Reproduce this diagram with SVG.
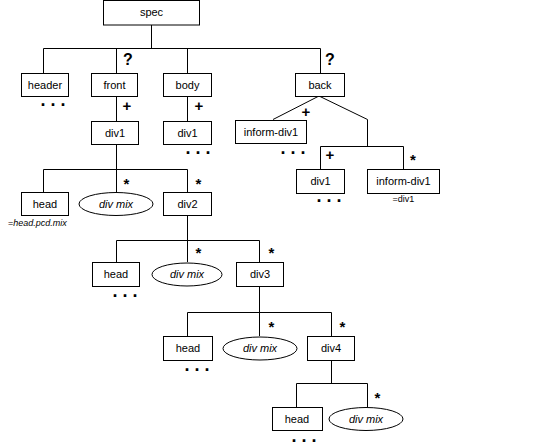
<svg xmlns="http://www.w3.org/2000/svg" width="544" height="446" viewBox="0 0 544 446">
<style>
.b{fill:#fff;stroke:#000;stroke-width:1}
.t{font-family:"Liberation Sans",Arial,sans-serif;font-size:11px;text-anchor:middle;fill:#000}
.i{font-style:italic}
.s{font-family:"Liberation Sans",Arial,sans-serif;font-size:15px;font-weight:bold;text-anchor:middle;fill:#000}
.q{font-family:"Liberation Sans",Arial,sans-serif;font-size:16px;font-weight:bold;text-anchor:middle;fill:#000}
.d{font-family:"Liberation Sans",Arial,sans-serif;font-size:18px;font-weight:bold;fill:#000}
.n{font-family:"Liberation Sans",Arial,sans-serif;font-size:9px;fill:#000}
#connectors line{stroke:#000;stroke-width:1}
</style>
<rect width="544" height="446" fill="#fff"/>
<g id="connectors">
<line x1="151.5" y1="25" x2="151.5" y2="48.5"/>
<line x1="43.5" y1="48.5" x2="320.5" y2="48.5"/>
<line x1="43.5" y1="48.5" x2="43.5" y2="73"/>
<line x1="116.5" y1="48.5" x2="116.5" y2="73"/>
<line x1="187.5" y1="48.5" x2="187.5" y2="73"/>
<line x1="320.5" y1="48.5" x2="320.5" y2="73"/>
<line x1="116.5" y1="96" x2="116.5" y2="121"/>
<line x1="187.5" y1="96" x2="187.5" y2="121"/>
<line x1="319" y1="96" x2="273" y2="119.5"/>
<line x1="319" y1="96" x2="367.5" y2="119.5"/>
<line x1="367.5" y1="119.5" x2="367.5" y2="146.5"/>
<line x1="320.5" y1="146.5" x2="403.5" y2="146.5"/>
<line x1="320.5" y1="146.5" x2="320.5" y2="169"/>
<line x1="403.5" y1="146.5" x2="403.5" y2="169"/>
<line x1="116.5" y1="144" x2="116.5" y2="169.5"/>
<line x1="43.5" y1="169.5" x2="187.5" y2="169.5"/>
<line x1="43.5" y1="169.5" x2="43.5" y2="192"/>
<line x1="116.5" y1="169.5" x2="116.5" y2="192"/>
<line x1="187.5" y1="169.5" x2="187.5" y2="192"/>
<line x1="187.5" y1="215" x2="187.5" y2="240.5"/>
<line x1="116.5" y1="240.5" x2="259.5" y2="240.5"/>
<line x1="116.5" y1="240.5" x2="116.5" y2="262"/>
<line x1="187.5" y1="240.5" x2="187.5" y2="262"/>
<line x1="259.5" y1="240.5" x2="259.5" y2="262"/>
<line x1="259.5" y1="286" x2="259.5" y2="312.5"/>
<line x1="187.5" y1="312.5" x2="331.5" y2="312.5"/>
<line x1="187.5" y1="312.5" x2="187.5" y2="336"/>
<line x1="259.5" y1="312.5" x2="259.5" y2="336"/>
<line x1="331.5" y1="312.5" x2="331.5" y2="336"/>
<line x1="331.5" y1="360" x2="331.5" y2="383.5"/>
<line x1="296.5" y1="383.5" x2="367.5" y2="383.5"/>
<line x1="296.5" y1="383.5" x2="296.5" y2="407"/>
<line x1="367.5" y1="383.5" x2="367.5" y2="407"/>
</g>
<g id="spec"><rect class="b" x="103.5" y="0.5" width="96" height="24.5"/><text class="t" x="151.5" y="16">spec</text></g>
<g id="header"><rect class="b" x="21.5" y="73.5" width="47" height="23"/><text class="t" x="45" y="89">header</text><text class="d" x="40.5" y="106">. . .</text></g>
<g id="front"><rect class="b" x="91.5" y="73.5" width="46" height="23"/><text class="t" x="114.5" y="89">front</text><text class="q" x="128" y="65">?</text></g>
<g id="body"><rect class="b" x="163.5" y="73.5" width="48" height="23"/><text class="t" x="187.5" y="89">body</text></g>
<g id="back"><rect class="b" x="295.5" y="73.5" width="49" height="23"/><text class="t" x="320" y="89">back</text><text class="q" x="330" y="65">?</text></g>
<g id="front-div1"><rect class="b" x="91.5" y="121.5" width="47" height="23"/><text class="t" x="115" y="137">div1</text><text class="s" x="127" y="111">+</text></g>
<g id="body-div1"><rect class="b" x="163.5" y="121.5" width="48" height="23"/><text class="t" x="187.5" y="137">div1</text><text class="s" x="199" y="111">+</text><text class="d" x="185.5" y="154">. . .</text></g>
<g id="back-inform-div1"><rect class="b" x="235.5" y="120.5" width="71" height="23"/><text class="t" x="271" y="136">inform-div1</text><text class="s" x="306" y="117">+</text><text class="d" x="280.5" y="154">. . .</text></g>
<g id="back-div1"><rect class="b" x="296.5" y="169.5" width="48" height="24"/><text class="t" x="320.5" y="185">div1</text><text class="s" x="330" y="160">+</text><text class="d" x="316.5" y="202">. . .</text></g>
<g id="back-inform-div1-2"><rect class="b" x="367.5" y="169.5" width="72" height="24"/><text class="t" x="403.5" y="185">inform-div1</text><text class="s" x="413" y="165">*</text><text class="n" x="403.5" y="202" text-anchor="middle">=div1</text></g>
<g id="head1"><rect class="b" x="21.5" y="192.5" width="47" height="23"/><text class="t" x="45" y="208">head</text><text class="n" x="8" y="226">=<tspan class="i">head.pcd.mix</tspan></text></g>
<g id="divmix1"><ellipse class="b" cx="116" cy="204" rx="37" ry="11.5"/><text class="t i" x="116" y="208">div mix</text><text class="s" x="126.5" y="188.5">*</text></g>
<g id="div2"><rect class="b" x="163.5" y="192.5" width="48" height="23"/><text class="t" x="187.5" y="208">div2</text><text class="s" x="198.5" y="188.5">*</text></g>
<g id="head2"><rect class="b" x="92.5" y="262.5" width="47" height="24"/><text class="t" x="116" y="278">head</text><text class="d" x="112.5" y="297">. . .</text></g>
<g id="divmix2"><ellipse class="b" cx="187" cy="274.5" rx="35" ry="11.5"/><text class="t i" x="187" y="278">div mix</text><text class="s" x="198.5" y="258">*</text></g>
<g id="div3"><rect class="b" x="236.5" y="262.5" width="47" height="24"/><text class="t" x="260" y="278">div3</text><text class="s" x="271.5" y="258">*</text></g>
<g id="head3"><rect class="b" x="163.5" y="336.5" width="49" height="24"/><text class="t" x="188" y="352">head</text><text class="d" x="184.5" y="371">. . .</text></g>
<g id="divmix3"><ellipse class="b" cx="260" cy="348.5" rx="37" ry="11.5"/><text class="t i" x="260" y="352">div mix</text><text class="s" x="271.5" y="332">*</text></g>
<g id="div4"><rect class="b" x="307.5" y="336.5" width="47" height="24"/><text class="t" x="331" y="352">div4</text><text class="s" x="342.5" y="332">*</text></g>
<g id="head4"><rect class="b" x="272.5" y="407.5" width="50" height="23"/><text class="t" x="297" y="423">head</text><text class="d" x="291.5" y="442">. . .</text></g>
<g id="divmix4"><ellipse class="b" cx="366" cy="419" rx="37" ry="11.5"/><text class="t i" x="366" y="423">div mix</text><text class="s" x="377.5" y="403">*</text></g>
</svg>
